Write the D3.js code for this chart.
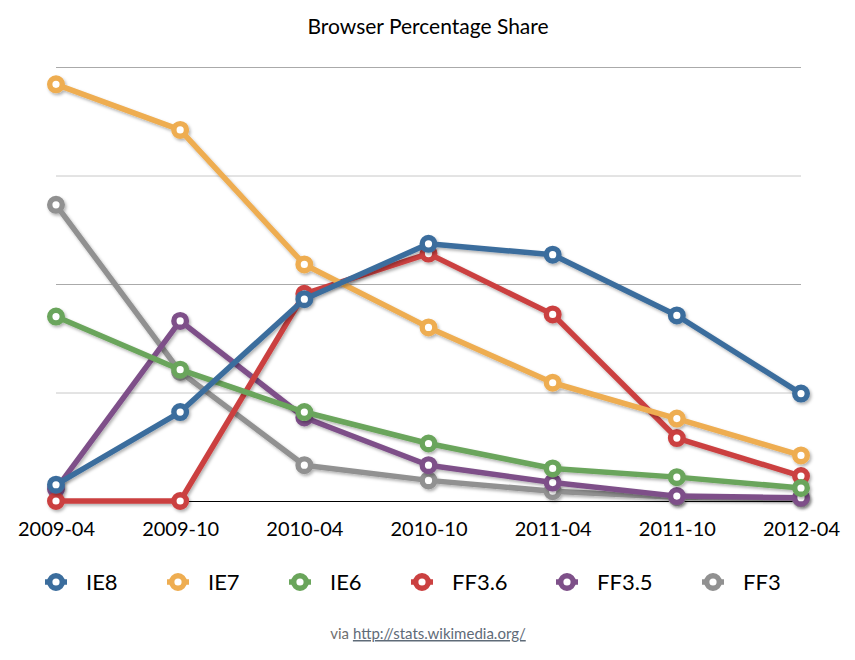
<!DOCTYPE html>
<html>
<head>
<meta charset="utf-8">
<script src="https://cdn.jsdelivr.net/npm/d3@7"></script>
<style>
  body { margin: 0; background: #fff; }
  svg { display: block; font-family: 'Lato', 'Open Sans', sans-serif; }
</style>
</head>
<body>
<script>
const MONTHS = ['2009-04', '2009-10', '2010-04', '2010-10', '2011-04', '2011-10', '2012-04']
const SERIES = ['IE8', 'IE7', 'IE6', 'FF3.6', 'FF3.5', 'FF3']
const COLORS = ['#3b6d9d', '#eead51', '#6aa55b', '#cb4141', '#7e5089', '#919191']

const IE8 = [1.5, 8.2, 18.6, 23.7, 22.7, 17.1, 9.9]
const IE7 = [38.4, 34.2, 21.8, 16.0, 10.9, 7.6, 4.2]
const IE6 = [17.0, 12.1, 8.2, 5.3, 3.0, 2.2, 1.2]
const FF36 = [0, 0, 19.1, 22.8, 17.2, 5.8, 2.3]
const FF35 = [1.1, 16.6, 7.7, 3.3, 1.7, 0.45, 0.3]
const FF3 = [27.3, 11.9, 3.3, 1.9, 0.9, 0.35, 0.25]
const VALUES = [IE8, IE7, IE6, FF36, FF35, FF3]

const Y_TICKS = [0, 10, 20, 30, 40]

const WIDTH = 855
const HEIGHT = 660
const LEFT = 56
const RIGHT = 801
const TOP = 67
const BOTTOM = 501

const svg = d3.select('body')
  .append('svg')
  .attr('width', WIDTH)
  .attr('height', HEIGHT)

const defs = svg.append('defs')
const shadow = defs.append('filter')
  .attr('id', 'shadow')
  .attr('x', '-10%').attr('y', '-10%')
  .attr('width', '120%').attr('height', '120%')
shadow.append('feDropShadow')
  .attr('dx', 1.5)
  .attr('dy', 2)
  .attr('stdDeviation', 1.5)
  .attr('flood-color', '#000')
  .attr('flood-opacity', 0.3)

const xScale = d3.scalePoint()
  .domain(MONTHS)
  .range([LEFT, RIGHT])

const yScale = d3.scaleLinear()
  .domain([0, 40])
  .range([BOTTOM, TOP])

// title
svg.append('text')
  .attr('x', 428)
  .attr('y', 34)
  .attr('text-anchor', 'middle')
  .attr('font-size', 21)
  .attr('fill', '#000')
  .text('Browser Percentage Share')

// gridlines
const grid = svg.append('g')
  .attr('transform', `translate(${LEFT}, 0)`)
  .call(d3.axisLeft(yScale).tickValues(Y_TICKS.slice(1)).tickSize(-(RIGHT - LEFT)).tickFormat(''))
grid.select('.domain').remove()
grid.selectAll('.tick line')
  .attr('stroke', (d, i) => i % 2 === 0 ? '#c8c8c8' : '#aaaaaa')
  .attr('stroke-width', 1)

// baseline
svg.append('line')
  .attr('x1', LEFT).attr('x2', RIGHT)
  .attr('y1', yScale(0) + 0.5).attr('y2', yScale(0) + 0.5)
  .attr('stroke', '#000')
  .attr('stroke-width', 1.2)

// x axis labels
const axisX = svg.append('g')
  .attr('transform', `translate(0, ${BOTTOM})`)
  .call(d3.axisBottom(xScale).tickSize(0).tickPadding(21))
axisX.select('.domain').remove()
axisX.selectAll('text')
  .attr('font-size', 20)
  .attr('font-family', "'Lato', 'Open Sans', sans-serif")
  .attr('fill', '#000')

// series, drawn last-first so IE8 sits on top
const line = d3.line()
  .x((d, i) => xScale(MONTHS[i]))
  .y(d => yScale(d))

const order = d3.range(SERIES.length).reverse()
order.forEach(k => {
  const g = svg.append('g').attr('filter', 'url(#shadow)')
  g.append('path')
    .datum(VALUES[k])
    .attr('d', line)
    .attr('fill', 'none')
    .attr('stroke', COLORS[k])
    .attr('stroke-width', 5.5)
    .attr('stroke-linejoin', 'round')
  g.selectAll('circle')
    .data(VALUES[k])
    .enter()
    .append('circle')
    .attr('cx', (d, i) => xScale(MONTHS[i]))
    .attr('cy', d => yScale(d))
    .attr('r', 6.3)
    .attr('fill', '#fff')
    .attr('stroke', COLORS[k])
    .attr('stroke-width', 5.4)
})

// legend
const LEGEND_X = [56, 178, 300, 422, 567, 713]
const legend = svg.append('g')
SERIES.forEach((name, k) => {
  const item = legend.append('g')
    .attr('transform', `translate(${LEGEND_X[k]}, 582)`)
  item.append('line')
    .attr('x1', -11).attr('x2', 11)
    .attr('stroke', COLORS[k])
    .attr('stroke-width', 5.5)
  item.append('circle')
    .attr('r', 6.3)
    .attr('fill', '#fff')
    .attr('stroke', COLORS[k])
    .attr('stroke-width', 5.4)
  item.append('text')
    .attr('x', 30)
    .attr('y', 8)
    .attr('font-size', 22)
    .attr('fill', '#000')
    .text(name)
})

// source note
const note = svg.append('text')
  .attr('x', 428)
  .attr('y', 639)
  .attr('text-anchor', 'middle')
  .attr('font-size', 15)
  .attr('fill', '#707070')
note.append('tspan').text('via ')
note.append('tspan')
  .attr('fill', '#5f6b78')
  .attr('text-decoration', 'underline')
  .text('http://stats.wikimedia.org/')
</script>
</body>
</html>
